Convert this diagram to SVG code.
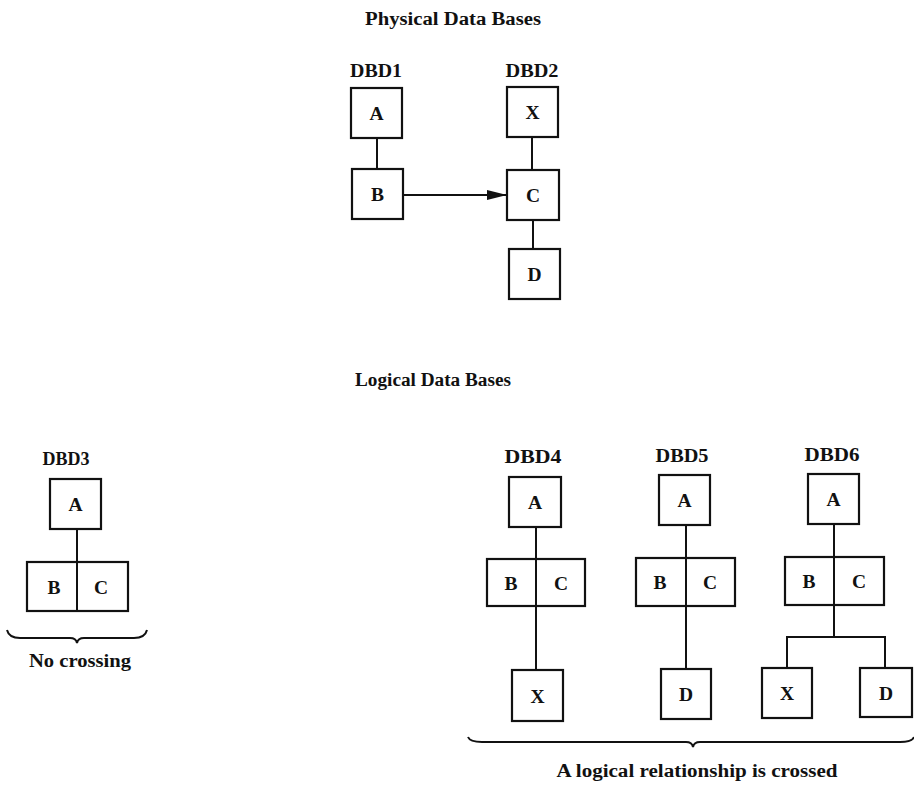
<svg xmlns="http://www.w3.org/2000/svg" width="914" height="786" viewBox="0 0 914 786">
<defs>
<style>
.t{font-family:"Liberation Serif","Times New Roman",serif;font-weight:bold;font-size:18.5px;fill:#111;text-anchor:middle}
.n{font-size:19.5px}
.b{fill:#fff;stroke:#111;stroke-width:2.2}
.l{fill:none;stroke:#111;stroke-width:2}
</style>
<marker id="ah" markerWidth="20" markerHeight="10" refX="20" refY="5" orient="auto" markerUnits="userSpaceOnUse">
<path d="M0,0 L20,5 L0,10 Z" fill="#111"/>
</marker>
</defs>
<rect width="914" height="786" fill="#fff"/>

<text class="t" x="453" y="25" textLength="176" lengthAdjust="spacingAndGlyphs">Physical Data Bases</text>
<text class="t" x="433" y="386" textLength="156" lengthAdjust="spacingAndGlyphs">Logical Data Bases</text>

<text class="t" x="376" y="77" textLength="52" lengthAdjust="spacingAndGlyphs">DBD1</text>
<text class="t" x="532" y="77" textLength="53" lengthAdjust="spacingAndGlyphs">DBD2</text>
<text class="t" x="66" y="465" textLength="47" lengthAdjust="spacingAndGlyphs">DBD3</text>
<text class="t" x="533" y="463" textLength="57" lengthAdjust="spacingAndGlyphs">DBD4</text>
<text class="t" x="682" y="462" textLength="53" lengthAdjust="spacingAndGlyphs">DBD5</text>
<text class="t" x="832" y="461" textLength="55" lengthAdjust="spacingAndGlyphs">DBD6</text>

<g id="connectors">
<line class="l" x1="377" y1="138" x2="377" y2="169"/>
<line class="l" x1="403" y1="195" x2="507" y2="195" marker-end="url(#ah)"/>
<line class="l" x1="532" y1="137" x2="532" y2="170"/>
<line class="l" x1="533" y1="220" x2="533" y2="249"/>
<line class="l" x1="77" y1="529" x2="77" y2="562"/>
<line class="l" x1="536" y1="527" x2="536" y2="559"/>
<line class="l" x1="536" y1="606" x2="536" y2="670"/>
<line class="l" x1="686" y1="525" x2="686" y2="558"/>
<line class="l" x1="686" y1="606" x2="686" y2="669"/>
<line class="l" x1="834" y1="524" x2="834" y2="557"/>
<path class="l" d="M834,605 V637 M787,668 V637 H885 V668"/>
</g>

<g id="dbd1-A"><rect class="b" x="351" y="88" width="51" height="50"/><text class="t n" x="376.5" y="120">A</text></g>
<g id="dbd1-B"><rect class="b" x="352" y="169" width="51" height="50"/><text class="t n" x="377.5" y="201">B</text></g>
<g id="dbd2-X"><rect class="b" x="507" y="87" width="51" height="50"/><text class="t n" x="532.5" y="119">X</text></g>
<g id="dbd2-C"><rect class="b" x="507" y="170" width="52" height="50"/><text class="t n" x="533" y="202">C</text></g>
<g id="dbd2-D"><rect class="b" x="509" y="249" width="51" height="50"/><text class="t n" x="534.5" y="281">D</text></g>

<g id="dbd3-A"><rect class="b" x="50" y="479" width="51" height="50"/><text class="t n" x="75.5" y="511">A</text></g>
<g id="dbd3-BC"><rect class="b" x="27" y="562" width="101" height="49"/><line class="l" x1="77" y1="562" x2="77" y2="611"/><text class="t n" x="54" y="594">B</text><text class="t n" x="101" y="594">C</text></g>

<g id="dbd4-A"><rect class="b" x="509" y="477" width="52" height="50"/><text class="t n" x="535" y="509">A</text></g>
<g id="dbd4-BC"><rect class="b" x="487" y="559" width="98" height="47"/><line class="l" x1="536" y1="559" x2="536" y2="606"/><text class="t n" x="511" y="590">B</text><text class="t n" x="561" y="590">C</text></g>
<g id="dbd4-X"><rect class="b" x="512" y="670" width="51" height="51"/><text class="t n" x="537.5" y="703">X</text></g>

<g id="dbd5-A"><rect class="b" x="659" y="475" width="51" height="50"/><text class="t n" x="684.5" y="507">A</text></g>
<g id="dbd5-BC"><rect class="b" x="636" y="558" width="99" height="48"/><line class="l" x1="686" y1="558" x2="686" y2="606"/><text class="t n" x="660" y="589">B</text><text class="t n" x="710" y="589">C</text></g>
<g id="dbd5-D"><rect class="b" x="661" y="669" width="50" height="50"/><text class="t n" x="686" y="701">D</text></g>

<g id="dbd6-A"><rect class="b" x="808" y="474" width="51" height="50"/><text class="t n" x="833.5" y="506">A</text></g>
<g id="dbd6-BC"><rect class="b" x="785" y="557" width="99" height="48"/><line class="l" x1="834" y1="557" x2="834" y2="605"/><text class="t n" x="809" y="588">B</text><text class="t n" x="859" y="588">C</text></g>
<g id="dbd6-X"><rect class="b" x="762" y="668" width="50" height="50"/><text class="t n" x="787" y="700">X</text></g>
<g id="dbd6-D"><rect class="b" x="860" y="668" width="52" height="49"/><text class="t n" x="886" y="700">D</text></g>

<g id="braces">
<path class="l" stroke-width="1.6" d="M7,630 Q9,638 20,638 L70,638 Q76,638 77,643 Q78,638 84,638 L134,638 Q145,638 147,630"/>
<path class="l" stroke-width="1.6" d="M468,737 Q470,742 482,742 L686,742 Q692,742 693,747 Q694,742 700,742 L900,742 Q912,742 914,737"/>
</g>

<text class="t" x="80" y="667" textLength="102" lengthAdjust="spacingAndGlyphs">No crossing</text>
<text class="t" x="697" y="777" textLength="281" lengthAdjust="spacingAndGlyphs">A logical relationship is crossed</text>
</svg>
